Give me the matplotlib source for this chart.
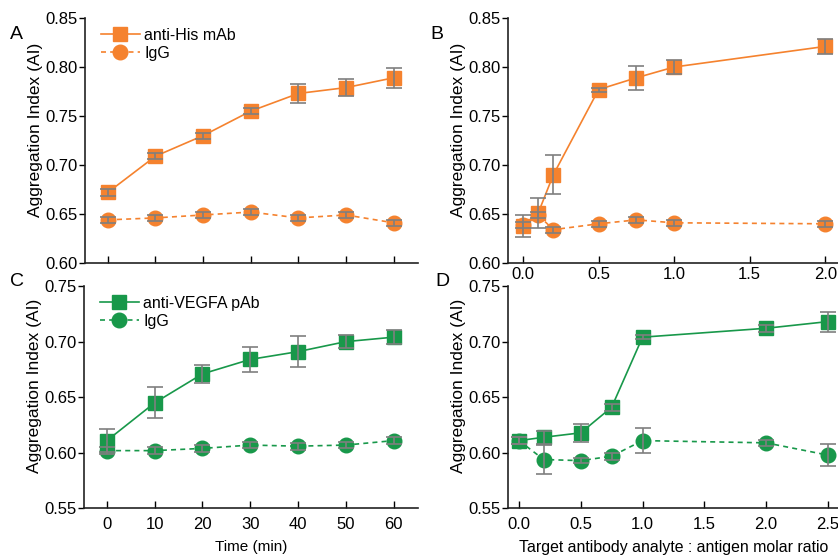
import matplotlib
matplotlib.use("Agg")
import matplotlib.pyplot as plt

plt.rcParams['font.family'] = ['Liberation Sans', 'DejaVu Sans']

ORANGE = '#F5822E'
GREEN = '#18984A'
ERR = '#7f7f7f'

# Panel A: time course, anti-His mAb
time_min = [0, 10, 20, 30, 40, 50, 60]
a_his = [0.672, 0.709, 0.730, 0.755, 0.773, 0.779, 0.789]
a_his_err = [0.004, 0.003, 0.003, 0.003, 0.010, 0.009, 0.010]
a_igg = [0.644, 0.646, 0.649, 0.652, 0.646, 0.649, 0.641]
a_igg_err = [0.003, 0.003, 0.003, 0.003, 0.003, 0.003, 0.003]

# Panel B: molar ratio, anti-His mAb
b_ratio = [0.0, 0.1, 0.2, 0.5, 0.75, 1.0, 2.0]
b_his = [0.638, 0.651, 0.690, 0.777, 0.789, 0.800, 0.821]
b_his_err = [0.011, 0.015, 0.020, 0.002, 0.012, 0.007, 0.008]
b_igg = [0.639, 0.649, 0.634, 0.640, 0.644, 0.641, 0.640]
b_igg_err = [0.003, 0.003, 0.003, 0.003, 0.003, 0.003, 0.003]

# Panel C: time course, anti-VEGFA pAb
c_vegfa = [0.611, 0.645, 0.671, 0.684, 0.691, 0.700, 0.704]
c_vegfa_err = [0.010, 0.014, 0.008, 0.011, 0.014, 0.006, 0.006]
c_igg = [0.602, 0.602, 0.604, 0.607, 0.606, 0.607, 0.611]
c_igg_err = [0.003, 0.003, 0.003, 0.003, 0.003, 0.003, 0.003]

# Panel D: molar ratio, anti-VEGFA pAb
d_ratio = [0.0, 0.2, 0.5, 0.75, 1.0, 2.0, 2.5]
d_vegfa = [0.611, 0.614, 0.618, 0.641, 0.704, 0.712, 0.718]
d_vegfa_err = [0.003, 0.006, 0.008, 0.003, 0.002, 0.003, 0.009]
d_igg = [0.611, 0.594, 0.593, 0.597, 0.611, 0.609, 0.598]
d_igg_err = [0.003, 0.013, 0.002, 0.003, 0.011, 0.003, 0.010]

fig = plt.figure(figsize=(8.38, 5.56), dpi=100)

axA = fig.add_axes([0.1014, 0.527, 0.3974, 0.4406])
axB = fig.add_axes([0.6062, 0.527, 0.4200, 0.4406])
axC = fig.add_axes([0.1002, 0.0855, 0.3986, 0.4001])
axD = fig.add_axes([0.6062, 0.0855, 0.4200, 0.4001])


def draw(ax, x, y1, e1, y2, e2, color, lab1):
    ax.plot(x, y1, '-', marker='s', color=color, ms=10, lw=1.2, label=lab1, zorder=2, clip_on=False)
    ax.plot(x, y2, '--', marker='o', color=color, ms=10.5, lw=1.2, label='IgG', zorder=2,
            dashes=(3, 2.5), clip_on=False)
    for y, e in ((y1, e1), (y2, e2)):
        ax.errorbar(x, y, yerr=e, fmt='none', ecolor=ERR, elinewidth=1.2, capsize=5.5,
                    capthick=1.2, zorder=3, clip_on=False)


def style(ax, ylab_x, ylab_y):
    for s in ('top', 'right'):
        ax.spines[s].set_visible(False)
    for s in ('left', 'bottom'):
        ax.spines[s].set_linewidth(1.2)
        ax.spines[s].set_color('#222222')
    ax.tick_params(axis='x', direction='in', length=5, width=1.0, labelsize=12, pad=6)
    ax.tick_params(axis='y', direction='out', length=4, width=1.0, labelsize=12, pad=1)
    ax.set_ylabel('Aggregation Index (AI)', fontsize=12.5)
    ax.yaxis.set_label_coords(ylab_x, ylab_y)


draw(axA, time_min, a_his, a_his_err, a_igg, a_igg_err, ORANGE, 'anti-His mAb')
draw(axB, b_ratio, b_his, b_his_err, b_igg, b_igg_err, ORANGE, 'anti-His mAb')
draw(axC, time_min, c_vegfa, c_vegfa_err, c_igg, c_igg_err, GREEN, 'anti-VEGFA pAb')
draw(axD, d_ratio, d_vegfa, d_vegfa_err, d_igg, d_igg_err, GREEN, 'anti-VEGFA pAb')

style(axA, -0.126, 0.545)
style(axB, -0.119, 0.545)
style(axC, -0.126, 0.55)
style(axD, -0.119, 0.55)

axA.set_xlim(-4.8, 65.1)
axA.set_ylim(0.60, 0.85)
axA.set_xticks(time_min)
axA.set_xticklabels([])
axA.set_yticks([0.60, 0.65, 0.70, 0.75, 0.80, 0.85])
axA.set_yticklabels(['0.60', '0.65', '0.70', '0.75', '0.80', '0.85'])

axB.set_xlim(-0.10, 2.23)
axB.set_ylim(0.60, 0.85)
axB.set_xticks([0.0, 0.5, 1.0, 1.5, 2.0])
axB.set_xticklabels(['0.0', '0.5', '1.0', '1.5', '2.0'])
axB.tick_params(axis='x', pad=3)
axB.set_yticks([0.60, 0.65, 0.70, 0.75, 0.80, 0.85])
axB.set_yticklabels(['0.60', '0.65', '0.70', '0.75', '0.80', '0.85'])

axC.set_xlim(-4.8, 65.1)
axC.set_ylim(0.55, 0.75)
axC.set_xticks(time_min)
axC.set_yticks([0.55, 0.60, 0.65, 0.70, 0.75])
axC.set_yticklabels(['0.55', '0.60', '0.65', '0.70', '0.75'])
axC.set_xlabel('Time (min)', fontsize=11)
axC.xaxis.set_label_coords(0.5, -0.14)

axD.set_xlim(-0.089, 2.76)
axD.set_ylim(0.55, 0.75)
axD.set_xticks([0.0, 0.5, 1.0, 1.5, 2.0, 2.5])
axD.set_xticklabels(['0.0', '0.5', '1.0', '1.5', '2.0', '2.5'])
axD.set_yticks([0.55, 0.60, 0.65, 0.70, 0.75])
axD.set_yticklabels(['0.55', '0.60', '0.65', '0.70', '0.75'])
axD.set_xlabel('Target antibody analyte : antigen molar ratio', fontsize=11.4)
axD.xaxis.set_label_coords(0.4716, -0.14)

for ax in (axA, axC):
    ax.legend(loc='upper left', bbox_to_anchor=(0.02, 1.0), frameon=False, fontsize=11.5,
              handlelength=2.4, handletextpad=0.3, labelspacing=0.2, borderaxespad=0.2)

fig.text(0.012, 0.93, 'A', fontsize=14)
fig.text(0.513, 0.93, 'B', fontsize=14)
fig.text(0.012, 0.485, 'C', fontsize=14)
fig.text(0.519, 0.485, 'D', fontsize=14)

fig.savefig('out.png', dpi=100)
